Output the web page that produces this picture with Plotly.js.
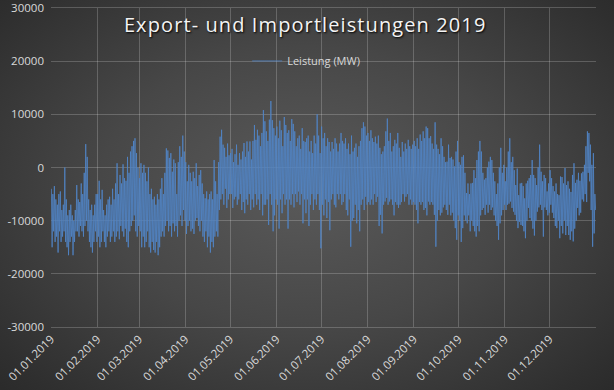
<!DOCTYPE html>
<html>
<head>
<meta charset="utf-8">
<script src="https://cdn.plot.ly/plotly-3.0.1.min.js"></script>
<style>
  html, body { margin: 0; padding: 0; }
  body {
    width: 614px; height: 390px; overflow: hidden;
    background: radial-gradient(ellipse 75% 80% at 50% 48%, #5a5a5a 0%, #474747 45%, #2f2f2f 85%, #272727 100%);
  }
  #chart { width: 614px; height: 390px; }
  #chart .gtitle { letter-spacing: 1.1px; }
</style>
</head>
<body>
<div id="chart"></div>
<script>
// Daily high / low of the power balance (MW)
const janHi = [-4000,-5000,-3500,-6000,-7000,-5000,-4500,-8000,-7000,0,-6000,-9000,-8000,-7000,-9000,-10000,-8000,-3300,-6000,-6500,-3000,-5000,-1000,4400,2000,-6000,-8000,-7000,-9000,-7000,-5000];
const janLo = [-15000,-12000,-14000,-13000,-16000,-12000,-14000,-13000,-12000,-14000,-15000,-16500,-14000,-13000,-16500,-14000,-12000,-12000,-13000,-11000,-12000,-13000,-11000,-10000,-12000,-14000,-15000,-16000,-14000,-12000,-14000];
const febHi = [-5000,-2500,-6000,-4200,-8000,-9000,-7000,-6000,-5500,-7000,-4000,-6000,-3000,800,-5000,-1400,-3000,600,-2000,-2500,2000,-1000,3000,4000,5000,5500,2700,0];
const febLo = [-13000,-15000,-14000,-12000,-14000,-15000,-13000,-12000,-14000,-13000,-12000,-14000,-13000,-12000,-13500,-11000,-12000,-13000,-11500,-14000,-15000,-12000,-11000,-10000,-9000,-12000,-13000,-11000];
const marHi = [-2000,800,-1000,500,-1000,-2600,0,-5000,-4000,-6000,-5500,-7000,-5000,-6000,-4000,-2000,-5000,-1000,3600,3200,1800,2700,-800,1500,800,-5000,1000,4000,2000,6000,3000];
const marLo = [-12000,-15000,-13000,-15000,-14000,-12000,-15000,-16000,-14000,-15500,-16000,-14000,-16500,-15000,-13000,-12000,-13000,-11000,-10000,-12000,-11000,-13000,-10500,-12000,-11000,-13000,-10000,-9000,-11000,-8000,-10000];
const aprHi = [1000,-2600,500,-1000,-2600,-800,-2000,800,-3500,-1400,-500,-3000,-5000,-5800,-4500,-6000,-5000,-4500,-6000,1400,-2600,-5000,1000,5800,7100,4300,3700,2000,4500,2300];
const aprLo = [-12500,-11000,-10000,-12000,-11500,-12500,-10000,-9500,-11000,-12000,-10000,-13000,-14000,-12000,-15000,-13000,-16000,-14000,-15000,-13000,-12000,-13000,-8000,-6000,-5000,-7000,-4000,-7600,-6000,-5000];
const mayHi = [2700,3500,1000,2500,4300,500,2700,1500,3000,4600,2000,4900,3000,4900,1500,5000,8000,5200,7100,6000,4000,6500,10800,8700,6800,5000,9000,12500,8900,7400,6000];
const mayLo = [-5000,-7600,-6000,-5500,-7000,-6000,-5000,-8000,-6500,-8600,-6000,-7000,-5000,-8000,-6000,-7500,-5000,-7000,-6000,-8000,-5000,-9000,-7000,-7000,-6000,-10800,-5000,-7000,-12000,-9000,-6000];
const junHi = [7700,5500,8800,7000,4000,9500,8000,6500,7000,5000,9100,8200,6800,4000,5500,6000,3500,7400,5000,4800,5500,6000,3000,5000,2700,6000,4500,10000,6000,2700];
const junLo = [-7000,-11500,-6000,-8600,-5000,-7000,-6000,-11500,-6000,-7000,-5000,-7500,-5000,-6500,-4500,-7000,-5000,-10500,-6000,-8600,-6000,-11000,-7000,-5000,-8000,-6000,-7000,-5000,-8000,-15200];
const julHi = [7700,5500,6500,4000,5500,4800,3000,4800,3500,5500,4500,3000,4500,6500,5000,4500,5500,3500,4500,2500,6000,3000,3700,4500,2000,4000,5000,7400,8500,7700,6000];
const julLo = [-7000,-9000,-6000,-9500,-6500,-11800,-6000,-5000,-7000,-7500,-5000,-6000,-5000,-7000,-6500,-5000,-8000,-9000,-6000,-14900,-10000,-9500,-7000,-10500,-8000,-12000,-7000,-6000,-8000,-5500,-7000];
const augHi = [6500,5000,7000,5500,4800,5800,4500,6000,3700,2500,3000,4000,6800,9200,5000,6500,3000,4000,5200,4500,6500,3700,2000,4800,3000,4500,3500,5200,4000,3500,4300];
const augLo = [-6500,-7000,-6000,-7000,-5000,-6500,-5500,-11000,-8900,-12400,-7000,-6400,-5700,-7000,-6400,-6000,-7000,-9000,-6500,-7000,-7600,-7000,-6500,-5000,-6400,-5500,-5000,-7000,-6000,-7000,-6500];
const sepHi = [5000,4000,5500,3500,6200,5000,6800,5500,7700,7400,5500,5900,4500,3500,8500,4300,3500,2500,5500,4000,2000,1000,1100,4300,1800,2000,1500,200,3000,5000];
const sepLo = [-7000,-8000,-10500,-6500,-7000,-6500,-8000,-7600,-9000,-6400,-7000,-6500,-7000,-8900,-14900,-10000,-8000,-9000,-8500,-7500,-7000,-8000,-8900,-7000,-9000,-8500,-10000,-11400,-13600,-9000];
const octHi = [1000,500,2000,2300,-1000,-4800,-3000,-5000,-3000,-2900,-500,-2000,1400,3000,5000,3000,-1000,-2300,-2000,0,1100,2000,1400,-1000,-2600,-5000,-3000,0,3700,-1000,500];
const octLo = [-10000,-14000,-11400,-9000,-10000,-10500,-9000,-12000,-10000,-11000,-12000,-13000,-11000,-12000,-9000,-8000,-7600,-8900,-7000,-8500,-7000,-8000,-7500,-9000,-10000,-11000,-13600,-10500,-9000,-8000,-7000];
const novHi = [-2600,0,3000,5500,1000,2000,-500,-3300,-200,-5200,-3000,-2900,-3500,-5800,-3000,-2500,-2000,-1400,1400,-1400,-2000,-3300,0,4300,-800,-2600,-1400,-2000,-4500,-3000];
const novLo = [-8000,-7000,-6800,-6400,-7600,-8300,-8900,-10000,-11400,-10200,-10800,-11000,-12000,-13300,-10000,-7600,-9500,-10000,-11500,-12800,-10000,-8300,-7500,-7000,-8000,-13000,-7500,-8000,-9000,-8500];
const decHi = [-500,-2000,-3500,-4500,-3000,-5000,-5200,-1700,-1800,-3000,-100,-3300,-2600,-4000,-4600,-1400,800,-2900,-2300,-1000,-2500,-1100,-800,500,4000,6800,6500,4300,500,2700,-5000];
const decLo = [-7000,-8500,-9500,-11000,-11400,-10000,-13300,-11000,-12400,-10000,-12700,-11000,-12700,-13600,-12000,-13900,-11500,-10000,-7600,-9000,-8500,-6000,-6400,-5000,-6500,-1000,-2600,-8000,-14900,-12400,-8000];

const monthStarts = ['2019-01-01','2019-02-01','2019-03-01','2019-04-01','2019-05-01','2019-06-01','2019-07-01','2019-08-01','2019-09-01','2019-10-01','2019-11-01','2019-12-01'];
const monthLabels = ['01.01.2019','01.02.2019','01.03.2019','01.04.2019','01.05.2019','01.06.2019','01.07.2019','01.08.2019','01.09.2019','01.10.2019','01.11.2019','01.12.2019'];
const yTickVals = [-30000,-20000,-10000,0,10000,20000,30000];
const yTickText = ['-30000','-20000','-10000','0','10000','20000','30000'];
const seriesName = 'Leistung (MW)';
const chartTitle = 'Export- und Importleistungen 2019';

const hi = [].concat(janHi,febHi,marHi,aprHi,mayHi,junHi,julHi,augHi,sepHi,octHi,novHi,decHi);
const lo = [].concat(janLo,febLo,marLo,aprLo,mayLo,junLo,julLo,augLo,sepLo,octLo,novLo,decLo);

const xs = [], ys = [];
for (let i = 0; i < hi.length; i++) {
  const day = new Date(Date.UTC(2019, 0, 1 + i)).toISOString().slice(0, 10);
  xs.push(day + ' 06:00'); ys.push(hi[i]);
  xs.push(day + ' 18:00'); ys.push(lo[i]);
}

const grid = 'rgba(255,255,255,0.2)';
const txt = '#d9d9d9';

Plotly.newPlot('chart', [{
  type: 'scatter', mode: 'lines', name: seriesName,
  x: xs, y: ys,
  line: { color: 'rgba(80,132,198,0.9)', width: 0.9 }
}], {
  width: 614, height: 390,
  margin: { l: 51, r: 18, t: 8, b: 63 },
  paper_bgcolor: 'rgba(0,0,0,0)',
  plot_bgcolor: 'rgba(0,0,0,0)',
  font: { family: 'Open Sans, sans-serif', color: txt, size: 11 },
  title: {
    text: chartTitle,
    x: 0.497, xanchor: 'center', y: 0.936, yanchor: 'middle',
    font: { family: 'Open Sans, sans-serif', size: 20, color: '#f4f4f4', shadow: '1px 1px 2px #000' }
  },
  showlegend: true,
  legend: {
    orientation: 'h', x: 0.36, xanchor: 'left', y: 0.834, yanchor: 'middle',
    bgcolor: 'rgba(0,0,0,0)', font: { size: 11, color: txt }
  },
  xaxis: {
    type: 'date', range: ['2019-01-01', '2020-01-01'],
    tickmode: 'array', tickvals: monthStarts, ticktext: monthLabels,
    tickangle: -45, showgrid: true, gridcolor: grid, gridwidth: 1,
    showline: true, mirror: true, linecolor: grid, linewidth: 1,
    ticks: '', tickfont: { size: 11.5, color: txt }, zeroline: false
  },
  yaxis: {
    range: [-30000, 30000], tickmode: 'array', tickvals: yTickVals, ticktext: yTickText,
    showgrid: true, gridcolor: grid, gridwidth: 1, zeroline: false,
    showline: false, ticks: '', ticklabelstandoff: 6,
    tickfont: { size: 11.5, color: txt }
  }
}, { displayModeBar: false, staticPlot: true });
</script>
</body>
</html>
